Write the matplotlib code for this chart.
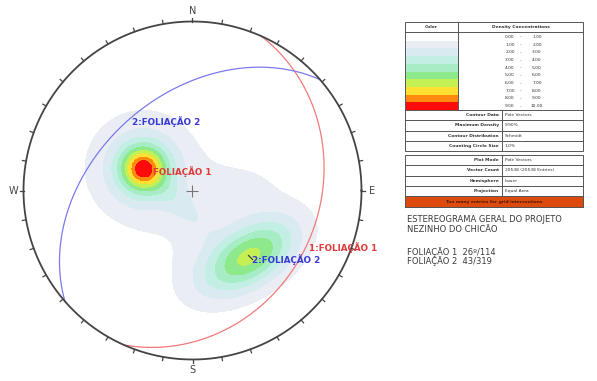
import matplotlib.pyplot as plt
import numpy as np
from matplotlib.patches import Circle, Rectangle

# planes: dip / dip direction
plane_names = ["FOLIAÇÃO 1", "FOLIAÇÃO 2"]
dips = [26, 43]
dip_dirs = [114, 319]
gc_colors = ["#f27a7a", "#7a7af0"]
txt_colors = ["#e23a3a", "#3838d6"]

# density clusters (trend, plunge, peak %, spread major, spread minor, axis angle)
cl_trend = [294, 294, 294, 139, 145, 225, 86]
cl_plunge = [64, 64, 64, 47, 50, 81, 65]
cl_peak = [4.0, 4.3, 1.5, 5.0, 1.25, 1.0, 0.7]
cl_major = [0.075, 0.13, 0.33, 0.21, 0.35, 0.18, 0.22]
cl_minor = [0.075, 0.13, 0.33, 0.11, 0.23, 0.06, 0.14]
cl_angle = [0, 0, 0, 32, 30, -46, 10]
max_density = 9.9

levels = [1, 2, 3, 4, 5, 6, 7, 8, 9, 10]
level_colors = ["#eaeef4", "#d9ebf1", "#c3eee3", "#a6edc6", "#8ee88c",
                "#c4ef55", "#ffe033", "#ff8a10", "#ff0a0a"]

legend_rows = ["0.00", "1.00", "2.00", "3.00", "4.00", "5.00", "6.00", "7.00", "8.00", "9.00"]
legend_next = ["1.00", "2.00", "3.00", "4.00", "5.00", "6.00", "7.00", "8.00", "9.00", "10.00"]
legend_swatch = ["#ffffff"] + level_colors

info1 = [("Contour Data", "Pole Vectors"), ("Maximum Density", "9.90%"),
         ("Contour Distribution", "Schmidt"), ("Counting Circle Size", "1.0%")]
info2 = [("Plot Mode", "Pole Vectors"), ("Vector Count", "20538 (20538 Entries)"),
         ("Hemisphere", "Lower"), ("Projection", "Equal Area")]


def project(trend, plunge):
    t = np.radians(trend)
    r = np.sqrt(2) * np.sin(np.radians(90 - np.asarray(plunge)) / 2)
    return r * np.sin(t), r * np.cos(t)


fig = plt.figure(figsize=(5.97, 3.81), dpi=100)
W, H = 597, 381
R = 169.0
cx, cy = 192.5, 190.5
ax = fig.add_axes([0, 0, 385 / W, 1])
ax.set_xlim(-cx / R, (385 - cx) / R)
ax.set_ylim(-(H - cy) / R, cy / R)
ax.set_aspect("equal")
ax.axis("off")

# density grid
g = np.linspace(-1, 1, 401)
X, Y = np.meshgrid(g, g)
Z = np.zeros_like(X)
for i in range(len(cl_trend)):
    x0, y0 = project(cl_trend[i], cl_plunge[i])
    a = np.radians(cl_angle[i])
    u = (X - x0) * np.cos(a) + (Y - y0) * np.sin(a)
    v = -(X - x0) * np.sin(a) + (Y - y0) * np.cos(a)
    Z += cl_peak[i] * np.exp(-0.5 * ((u / cl_major[i]) ** 2 + (v / cl_minor[i]) ** 2))
Z = np.minimum(Z, max_density)
Z = np.ma.masked_where(X ** 2 + Y ** 2 > 1, Z)
cs = ax.contourf(X, Y, Z, levels=levels, colors=level_colors)
clip = Circle((0, 0), 1, transform=ax.transData)
cs.set_clip_path(clip)

# great circles
alpha = np.radians(np.linspace(0, 180, 361))
for i in range(2):
    dd = np.radians(dip_dirs[i])
    st = dd - np.pi / 2
    dp = np.radians(dips[i])
    sv = np.array([np.sin(st), np.cos(st), 0.0])
    dv = np.array([np.sin(dd) * np.cos(dp), np.cos(dd) * np.cos(dp), np.sin(dp)])
    L = np.outer(np.cos(alpha), sv) + np.outer(np.sin(alpha), dv)
    pl = np.degrees(np.arcsin(np.clip(L[:, 2], -1, 1)))
    tr = np.degrees(np.arctan2(L[:, 0], L[:, 1]))
    px, py = project(tr, pl)
    ax.plot(px, py, color=gc_colors[i], lw=0.9)

# primitive circle and ticks
th = np.linspace(0, 2 * np.pi, 400)
ax.plot(np.cos(th), np.sin(th), color="#444444", lw=1.3)
for az in range(0, 360, 10):
    a = np.radians(az)
    ax.plot([np.sin(a), 1.022 * np.sin(a)], [np.cos(a), 1.022 * np.cos(a)],
            color="#444444", lw=0.9)
for lab, az in [("N", 0), ("E", 90), ("S", 180), ("W", 270)]:
    a = np.radians(az)
    ax.text(1.06 * np.sin(a), 1.06 * np.cos(a), lab, ha="center", va="center",
            fontsize=7, color="#444444")
ax.plot(0, 0, marker="+", ms=9, color="#777777", mew=0.8)

# labels
f = dict(fontsize=6.3, fontweight="bold")
p1x, p1y = project(dip_dirs[0] + 180, 90 - dips[0])
p2x, p2y = project(dip_dirs[1] + 180 - 360, 90 - dips[1])
ax.text(p1x + 0.055, p1y - 0.04, "FOLIAÇÃO 1", color=txt_colors[0], **f)
ax.plot(p2x, p2y, marker=(2, 0, 45), ms=5, color="#333333", mew=0.8)
ax.text(p2x + 0.01, p2y - 0.04, "2:FOLIAÇÃO 2", color=txt_colors[1], **f)
ax.text(-0.36, 0.385, "2:FOLIAÇÃO 2", color=txt_colors[1], **f)
ax.text(0.69, -0.36, "1:FOLIAÇÃO 1", color=txt_colors[0], **f)

# legend tables (pixel coordinates)
t = fig.add_axes([0, 0, 1, 1])
t.set_xlim(0, W)
t.set_ylim(H, 0)
t.axis("off")
lc = "#555555"
lw = 0.7
ts = 3.2
x0, x1, xc, xd = 405, 583, 458, 502
t.add_patch(Rectangle((x0, 21.7), x1 - x0, 151 - 21.7, fill=False, ec=lc, lw=lw))
t.plot([x0, x1], [32, 32], color=lc, lw=lw)
t.plot([xc, xc], [21.7, 110], color=lc, lw=lw)
t.text((x0 + xc) / 2, 27, "Color", ha="center", va="center", fontsize=ts, fontweight="bold", color="#333")
t.text((xc + x1) / 2, 27, "Density Concentrations", ha="center", va="center", fontsize=ts,
       fontweight="bold", color="#333")
rh = (110 - 33) / 10
for i in range(10):
    y = 33 + i * rh
    t.add_patch(Rectangle((x0 + 0.5, y), xc - x0 - 1, rh, fc=legend_swatch[i], ec="none"))
    t.text(510, y + rh / 2, legend_rows[i], ha="center", va="center", fontsize=ts, color="#333")
    t.text(521, y + rh / 2, "-", ha="center", va="center", fontsize=ts, color="#333")
    t.text(537, y + rh / 2, legend_next[i], ha="center", va="center", fontsize=ts, color="#333")
ys = [110, 120.3, 130.6, 140.8, 151]
for i, (k, v) in enumerate(info1):
    t.plot([x0, x1], [ys[i], ys[i]], color=lc, lw=lw)
    ym = (ys[i] + ys[i + 1]) / 2
    t.text(xd - 3, ym, k, ha="right", va="center", fontsize=ts, fontweight="bold", color="#333")
    t.text(xd + 3, ym, v, ha="left", va="center", fontsize=ts, color="#333")
t.plot([xd, xd], [110, 151], color=lc, lw=lw)

t.add_patch(Rectangle((x0, 154.5), x1 - x0, 207 - 154.5, fill=False, ec=lc, lw=lw))
ys = [154.5, 165, 175.5, 186, 196.3]
for i, (k, v) in enumerate(info2):
    if i > 0:
        t.plot([x0, x1], [ys[i], ys[i]], color=lc, lw=lw)
    ym = (ys[i] + ys[i + 1]) / 2
    t.text(xd - 3, ym, k, ha="right", va="center", fontsize=ts, fontweight="bold", color="#333")
    t.text(xd + 3, ym, v, ha="left", va="center", fontsize=ts, color="#333")
t.plot([xd, xd], [154.5, 196.3], color=lc, lw=lw)
t.add_patch(Rectangle((x0, 196.3), x1 - x0, 207 - 196.3, fc="#dd4a0e", ec=lc, lw=lw))
t.text((x0 + x1) / 2, 201.7, "Too many entries for grid intersections", ha="center", va="center",
       fontsize=ts, fontweight="bold", color="#4a1a05")

tf = dict(fontsize=6, color="#3a3a3a", va="center", ha="left")
t.text(407, 219, "ESTEREOGRAMA GERAL DO PROJETO", **tf)
t.text(407, 229.5, "NEZINHO DO CHICÃO", **tf)
t.text(407, 252, "FOLIAÇÃO 1  26º/114", **tf)
t.text(407, 261.5, "FOLIAÇÃO 2  43/319", **tf)

plt.savefig("out.png", dpi=100)
